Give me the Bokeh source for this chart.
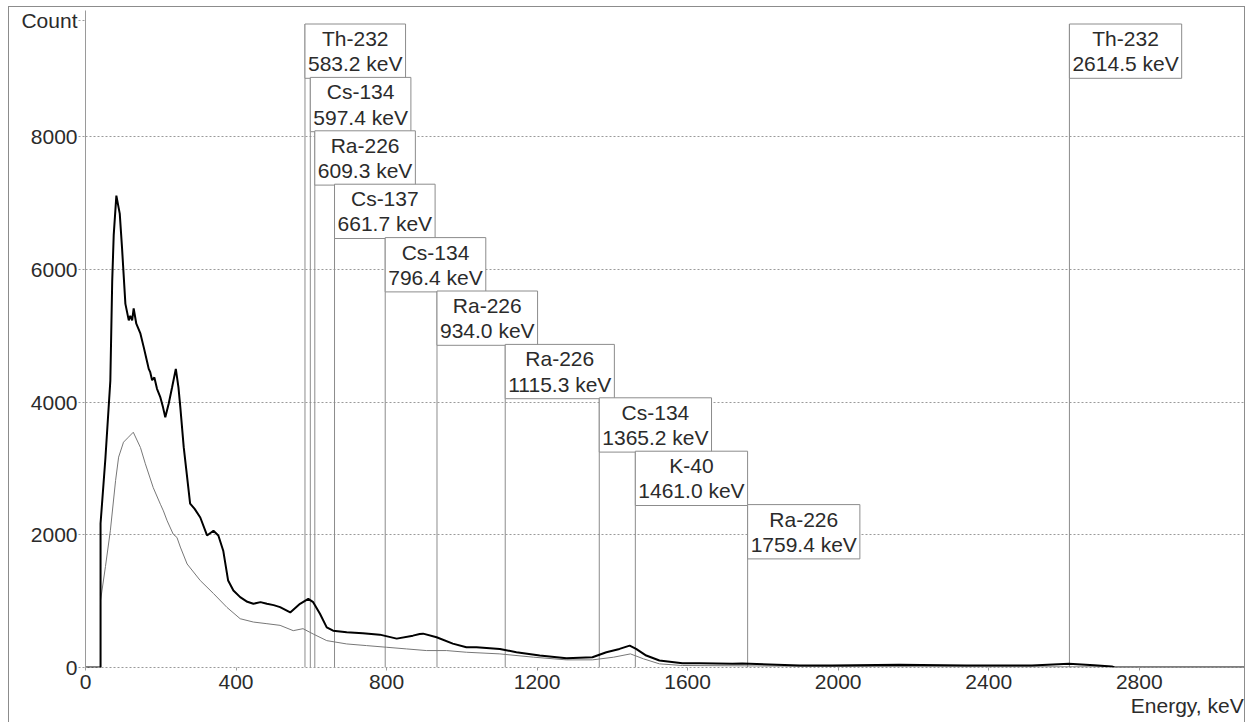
from bokeh.plotting import figure
from bokeh.models import Range1d, ColumnDataSource, FixedTicker, LinearAxis
from bokeh.embed import file_html
from bokeh.resources import INLINE
from bokeh.core.properties import value

# ---------------- data ----------------
energy_sample = [0, 40, 40, 53, 66, 71, 75, 82, 91, 97, 106, 115, 119, 124, 128, 135,
                 146, 155, 164, 168, 172, 177, 183, 190, 199, 206, 212, 221, 230, 240,
                 247, 252, 261, 268, 278, 290, 305, 323, 340, 353, 366, 379, 393, 411,
                 430, 446, 465, 482, 500, 517, 544, 570, 592, 605, 623, 641, 658, 694,
                 737, 782, 827, 870, 888, 897, 933, 976, 1012, 1039, 1101, 1145, 1207,
                 1278, 1347, 1384, 1419, 1446, 1463, 1490, 1525, 1586, 1631, 1719, 1745,
                 1897, 1984, 2162, 2340, 2515, 2613, 2680, 2727, 2735, 3085]
count_sample = [0, 0, 2170, 3160, 4320, 5830, 6520, 7110, 6840, 6330, 5480, 5230, 5300,
                5230, 5410, 5180, 5030, 4820, 4600, 4500, 4450, 4330, 4370, 4200, 4070,
                3920, 3770, 3975, 4220, 4500, 4220, 3920, 3320, 2970, 2470, 2390, 2260,
                1990, 2060, 1990, 1760, 1310, 1160, 1060, 990, 960, 985, 960, 940, 910,
                830, 960, 1035, 985, 810, 605, 555, 530, 515, 495, 435, 480, 505, 510,
                455, 360, 305, 305, 280, 230, 180, 140, 155, 230, 280, 330, 280, 180,
                105, 65, 65, 55, 60, 30, 30, 40, 30, 30, 55, 35, 15, 0, 0]

energy_background = [0, 40, 40, 53, 66, 80, 88, 101, 114, 127, 146, 159, 180, 199, 207,
                     217, 233, 243, 252, 270, 305, 340, 376, 411, 446, 482, 517, 552,
                     578, 605, 641, 694, 747, 800, 853, 906, 959, 1012, 1101, 1191, 1278,
                     1347, 1403, 1448, 1483, 1525, 1586, 1750, 2000, 2400, 2727, 2735]
count_background = [0, 0, 1010, 1520, 2060, 2820, 3170, 3395, 3470, 3545, 3315, 3070,
                     2710, 2460, 2360, 2210, 2010, 1960, 1815, 1560, 1310, 1115, 905, 735,
                     685, 660, 635, 555, 585, 505, 405, 355, 330, 305, 280, 255, 255, 230,
                     205, 155, 115, 115, 155, 205, 130, 55, 30, 25, 15, 10, 10, 0]

nuclides = ["Th-232", "Cs-134", "Ra-226", "Cs-137", "Cs-134", "Ra-226", "Ra-226",
            "Cs-134", "K-40", "Ra-226", "Th-232"]
line_energies = [583.2, 597.4, 609.3, 661.7, 796.4, 934.0, 1115.3, 1365.2, 1461.0,
                 1759.4, 2614.5]

x_ticks = [0, 400, 800, 1200, 1600, 2000, 2400, 2800]
y_ticks = [0, 2000, 4000, 6000, 8000]
x_title = "Energy, keV"
y_title = "Count"

# ---------------- layout ----------------
X_MAX = 3085
Y_MAX = 9900
W, H = 1237, 720
MB_L, MB_R, MB_T, MB_B = 76, 0, 3, 60
frame_w = W - MB_L - MB_R
frame_h = H - MB_T - MB_B
px_per_kev = frame_w / X_MAX
px_per_count = frame_h / Y_MAX

FONT = "Liberation Sans"
TXT = "#2b2b2b"
GRAY = "#8c8c8c"

p = figure(width=W, height=H, x_range=Range1d(0, X_MAX), y_range=Range1d(0, Y_MAX),
           output_backend="svg", toolbar_location=None,
           min_border_left=MB_L, min_border_right=MB_R,
           min_border_top=MB_T, min_border_bottom=MB_B)
p.margin = (6, 0, 0, 8)
p.styles = {"border": "1px solid " + GRAY}
p.outline_line_color = None
p.background_fill_color = "white"
p.border_fill_color = "white"

# y title shown as a label at the top of the y axis
count_pos = int(round(Y_MAX - 10 / px_per_count, -1))
# x title shown right-aligned under the tick labels (centre of its text)
title_text_px = 113
energy_pos = int(round(X_MAX - (title_text_px / 2 + 1) / px_per_kev))

p.xaxis.ticker = FixedTicker(ticks=x_ticks)
p.yaxis.ticker = FixedTicker(ticks=y_ticks + [count_pos])
p.yaxis.major_label_overrides = {count_pos: y_title}
p.ygrid.ticker = FixedTicker(ticks=y_ticks)

for ax in (p.xaxis[0], p.yaxis[0]):
    ax.major_label_text_font = FONT
    ax.major_label_text_font_size = "21px"
    ax.major_label_text_color = TXT
    ax.minor_tick_line_color = None
    ax.major_tick_in = 0
    ax.major_tick_line_color = "#9a9a9a"
    ax.axis_line_color = "#9a9a9a"
p.xaxis.major_tick_out = 3
p.xaxis.major_label_standoff = 4
p.xaxis.axis_line_dash = "2 2"
p.yaxis.major_tick_out = 7
p.yaxis.major_tick_line_dash = "2 2"
p.yaxis.major_label_standoff = 1

title_axis = LinearAxis(ticker=FixedTicker(ticks=[energy_pos]),
                        major_label_overrides={energy_pos: x_title},
                        axis_line_color=None, major_tick_line_color=None,
                        minor_tick_line_color=None, major_tick_out=0, major_tick_in=0,
                        major_label_standoff=2,
                        major_label_text_font=FONT, major_label_text_font_size="21px",
                        major_label_text_color=TXT)
p.add_layout(title_axis, "below")

p.xgrid.visible = False
p.ygrid.grid_line_color = "#9a9a9a"
p.ygrid.grid_line_dash = "2 2"

# label rows: cascade down while boxes overlap the previous one
texts = [f"{n}\n{e:.1f} keV" for n, e in zip(nuclides, line_energies)]
box_w_kev = [(11 * len(f"{e:.1f} keV") + 3) / px_per_kev for e in line_energies]
rows = [0]
for i in range(1, len(line_energies)):
    if line_energies[i] < line_energies[i - 1] + box_w_kev[i - 1]:
        rows.append(rows[-1] + 1)
    else:
        rows.append(0)
tops = [Y_MAX - (13.5 + r * 53.4) / px_per_count for r in rows]

src = ColumnDataSource(dict(x=line_energies, top=tops, zero=[0] * len(tops), text=texts))

p.segment(x0="x", y0="zero", x1="x", y1="top", source=src, line_color=GRAY, line_width=1)

p.line(energy_background, count_background, line_color="#777777", line_width=1)
p.line(energy_sample, count_sample, line_color="#000000", line_width=2)

p.text(x="x", y="top", text="text", source=src, anchor="top_left", text_align="center",
       text_font=value(FONT), text_font_size="21px", text_line_height=1.1,
       text_color=TXT, padding=3, background_fill_color="white",
       border_line_color=GRAY, border_line_width=1)

open("out.html", "w").write(file_html(p, INLINE))
